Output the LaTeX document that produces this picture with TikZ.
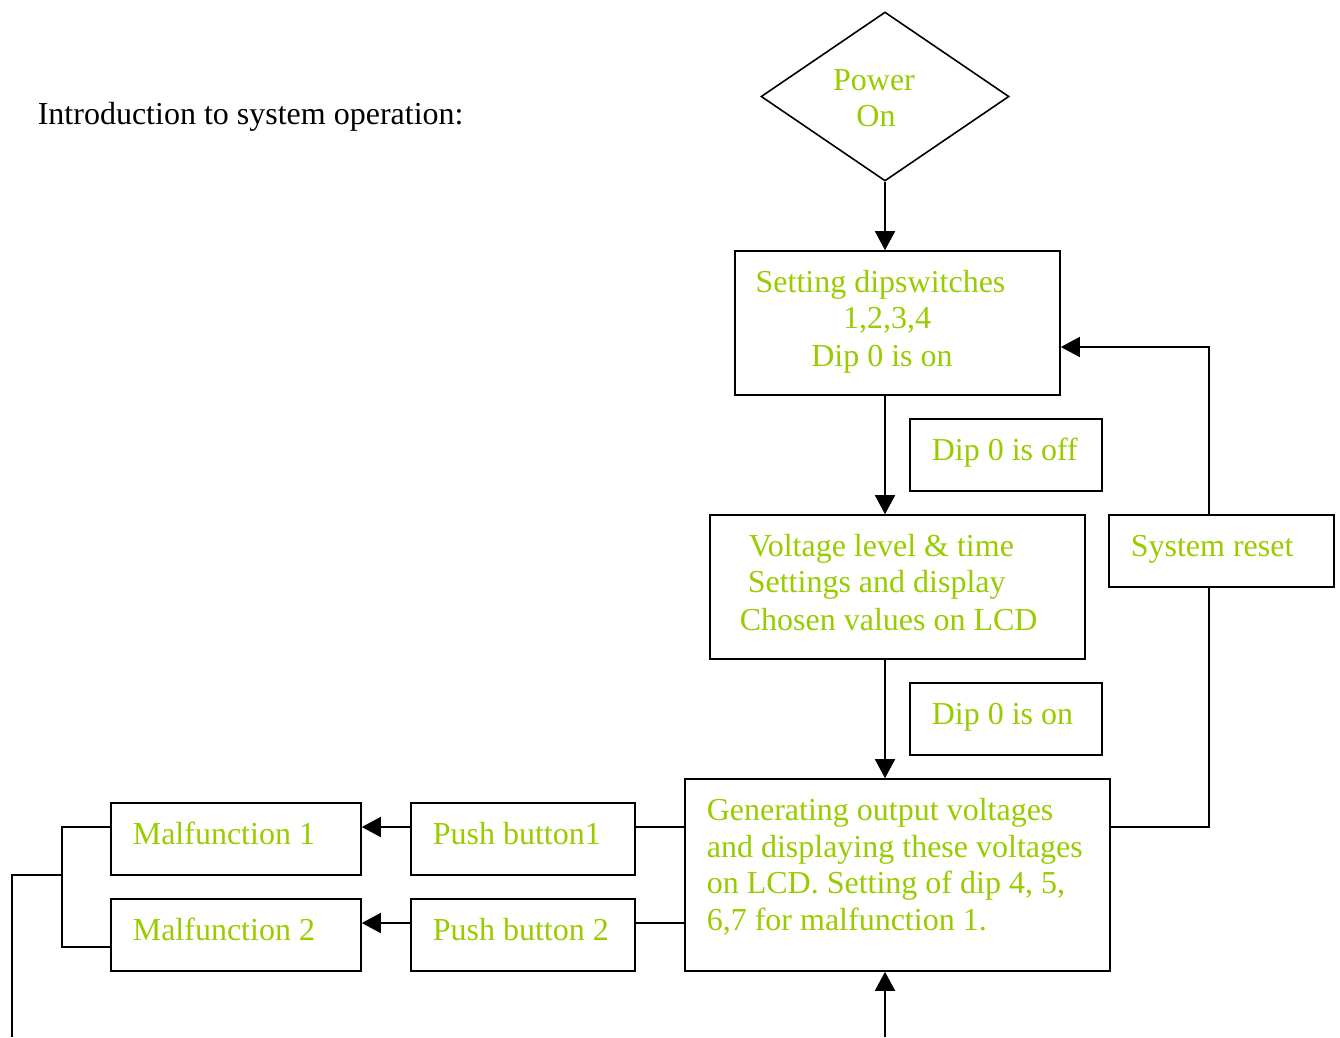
\documentclass[tikz,border=0pt]{standalone}
\usepackage{fontspec}
\setmainfont{Liberation Serif}
\usetikzlibrary{arrows.meta,shapes.geometric}
\definecolor{lg}{RGB}{153,204,0}
\begin{document}
\begin{tikzpicture}[x=1pt,y=-1pt,line width=1.6pt,
  box/.style={draw,rectangle,inner sep=0pt,line width=1.6pt},
  txt/.style={text=lg,anchor=base west,inner sep=0pt,font=\fontsize{32}{37}\selectfont},
  ctxt/.style={text=lg,anchor=base,inner sep=0pt,font=\fontsize{32}{37}\selectfont},
  arr/.style={-{Triangle[length=19pt,width=20pt]}}]
\useasboundingbox (0,0) rectangle (1340,1037);
% intro
\node[txt,text=black] (intro) at (37,124) {Introduction to system operation:};
% diamond
\node[draw,diamond,inner sep=0pt,minimum width=248pt,minimum height=169pt] (pw) at (885,96.5) {};
\node[ctxt] (pwa) at (874,90) {Power};
\node[ctxt] (pwb) at (876,126) {On};
% boxes
\node[box,minimum width=325pt,minimum height=144pt] (b1) at (897.5,323) {};
\node[ctxt] (b1a) at (880.5,292) {Setting dipswitches};
\node[ctxt] (b1b) at (887,328) {1,2,3,4};
\node[ctxt] (b1c) at (882,366) {Dip 0 is on};
\node[box,minimum width=192pt,minimum height=72pt] (off) at (1006,455) {};
\node[txt] (offt) at (931,460) {Dip 0 is off};
\node[box,minimum width=375pt,minimum height=144pt] (b2) at (897.5,587) {};
\node[txt] (b2a) at (748,556) {Voltage level \& time};
\node[txt] (b2b) at (747,592) {Settings and display};
\node[txt] (b2c) at (739,630) {Chosen values on LCD};
\node[box,minimum width=192pt,minimum height=72pt] (on) at (1006,719) {};
\node[txt] (ont) at (931,724) {Dip 0 is on};
\node[box,minimum width=425pt,minimum height=192pt] (b3) at (897.5,875) {};
\node[txt] (b3a) at (706,820) {Generating output voltages};
\node[txt] (b3b) at (706,857) {and displaying these voltages};
\node[txt] (b3c) at (706,893) {on LCD. Setting of dip 4, 5,};
\node[txt] (b3d) at (706,930) {6,7 for malfunction 1.};
\node[box,minimum width=225pt,minimum height=72pt] (rst) at (1221.5,551) {};
\node[txt] (rstt) at (1130,556) {System reset};
\node[box,minimum width=224pt,minimum height=72pt] (pb1) at (523,839) {};
\node[txt] (pb1t) at (432,844) {Push button1};
\node[box,minimum width=224pt,minimum height=72pt] (pb2) at (523,935) {};
\node[txt] (pb2t) at (432,940) {Push button 2};
\node[box,minimum width=250pt,minimum height=72pt] (m1) at (236,839) {};
\node[txt] (m1t) at (132,844) {Malfunction 1};
\node[box,minimum width=250pt,minimum height=72pt] (m2) at (236,935) {};
\node[txt] (m2t) at (132,940) {Malfunction 2};
% coordinates
\coordinate (y1) at (0,827);
\coordinate (y2) at (0,923);
\coordinate (r1) at (1209,827);
\coordinate (r2) at (1209,347);
\coordinate (bot) at (885,1037);
\coordinate (k1) at (62,827);
\coordinate (k2) at (62,947);
\coordinate (k3) at (62,875);
\coordinate (k4) at (12,875);
\coordinate (k5) at (12,1037);
% connectors
\draw[arr] (pw.south) -- (b1.north -| pw.south);
\draw[arr] (b1.south -| pw.south) -- (b2.north -| pw.south);
\draw[arr] (b2.south -| pw.south) -- (b3.north -| pw.south);
\draw[arr] (bot) -- (b3.south -| bot);
\draw (b3.east |- r1) -- (r1) -- (rst.south -| r1);
\draw[arr] (rst.north -| r2) -- (r2) -- (b1.east |- r2);
\draw (b3.west |- y1) -- (pb1.east |- y1);
\draw (b3.west |- y2) -- (pb2.east |- y2);
\draw[arr] (pb1.west |- y1) -- (m1.east |- y1);
\draw[arr] (pb2.west |- y2) -- (m2.east |- y2);
\draw (m1.west |- k1) -- (k1) -- (k2) -- (m2.west |- k2);
\draw (k3) -- (k4) -- (k5);
\end{tikzpicture}
\end{document}
